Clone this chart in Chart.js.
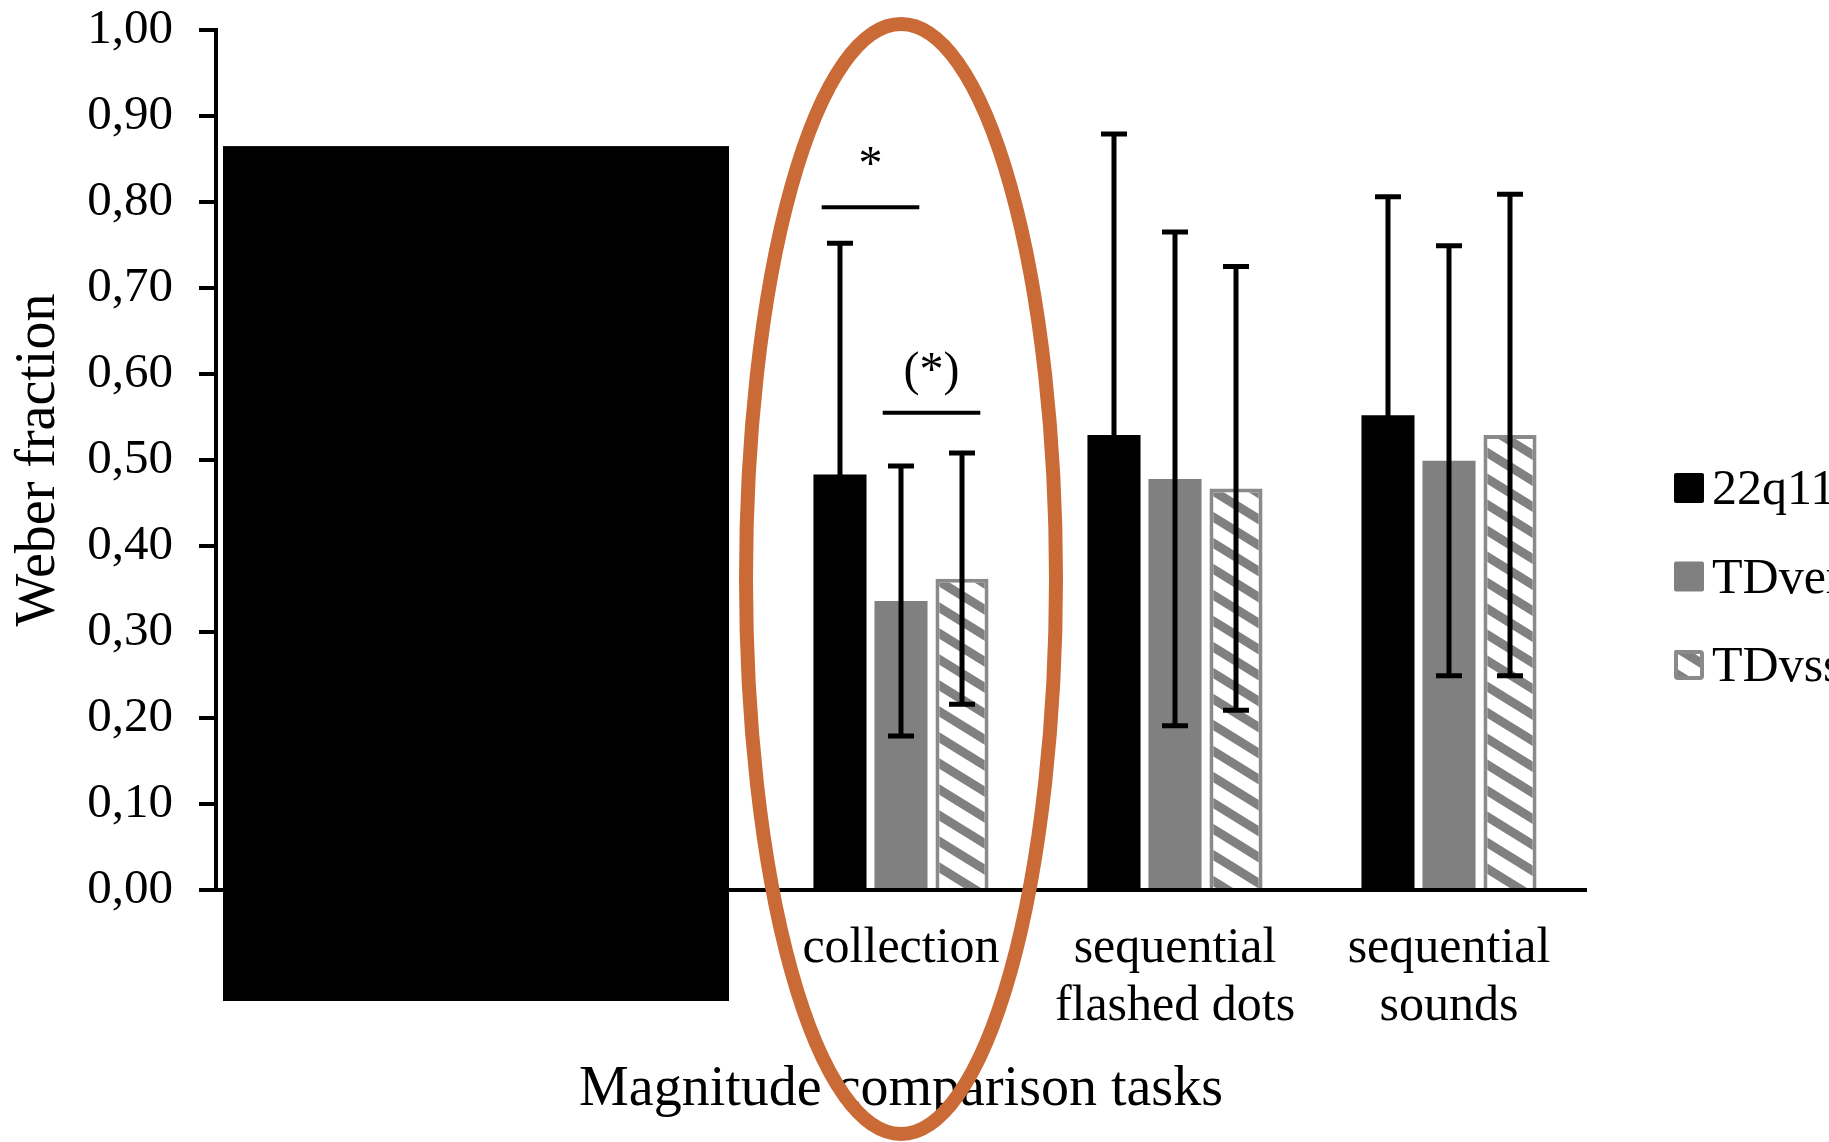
<!DOCTYPE html>
<html>
<head>
<meta charset="utf-8">
<script src="https://cdn.jsdelivr.net/npm/chart.js@4.4.1/dist/chart.umd.min.js"></script>
<style>
  html, body { margin: 0; padding: 0; background: #fff; overflow: hidden; }
</style>
</head>
<body>
<canvas id="chart" width="1829" height="1142"></canvas>
<script>
// categories (first two are covered by the black box in the original)
const categories = ['', '', 'collection', ['sequential', 'flashed dots'], ['sequential', 'sounds']];
const groupNames = ['22q11DS', 'TDverbal', 'TDvss'];

// mean Weber fractions
const means22q  = [null, null, 0.483, 0.529, 0.552];
const meansTDve = [null, null, 0.336, 0.478, 0.499];
const meansTDvs = [null, null, 0.362, 0.467, 0.529];

// error bar half-lengths
const err22q  = [null, null, 0.269, 0.350, 0.254];
const errTDve = [null, null, 0.157, 0.287, 0.250];
const errTDvs = [null, null, 0.146, 0.258, 0.280];

// significance marks (collection task)
const sigText   = ['*', '(*)'];
const sigLevel  = [0.794, 0.555];
const sigFromDs = [0, 1];
const sigCat    = 2;

const FONT = "'Liberation Serif', 'Times New Roman', serif";
const GREY = '#808080';

function makeHatch() {
    const w = 42, h = 26;
    const c = document.createElement('canvas');
    c.width = w; c.height = h;
    const g = c.getContext('2d');
    g.fillStyle = '#fff';
    g.fillRect(0, 0, w, h);
    g.strokeStyle = GREY;
    g.lineWidth = 9;
    for (const k of [-1, 0, 1]) {
        g.beginPath();
        g.moveTo(-w, k * h - h);
        g.lineTo(2 * w, k * h + 2 * h);
        g.stroke();
    }
    return g.createPattern(c, 'repeat');
}
const hatch = makeHatch();
const allErrors = [err22q, errTDve, errTDvs];

// error bars drawn from the data through the y scale
const errorBars = {
    id: 'errorBars',
    afterDatasetsDraw(chart) {
        const ctx = chart.ctx, y = chart.scales.y;
        ctx.save();
        ctx.strokeStyle = '#000';
        ctx.lineWidth = 5;
        chart.data.datasets.forEach((ds, i) => {
            const meta = chart.getDatasetMeta(i);
            ds.data.forEach((v, j) => {
                const e = allErrors[i][j];
                if (v == null || e == null) return;
                const x = meta.data[j].x;
                const top = y.getPixelForValue(v + e), bot = y.getPixelForValue(v - e);
                ctx.beginPath();
                ctx.moveTo(x, top); ctx.lineTo(x, bot);
                ctx.moveTo(x - 13, top); ctx.lineTo(x + 13, top);
                ctx.moveTo(x - 13, bot); ctx.lineTo(x + 13, bot);
                ctx.stroke();
            });
        });
        ctx.restore();
    }
};

// significance lines, redaction box, highlight ellipse, legend
const extras = {
    id: 'extras',
    afterDraw(chart) {
        const ctx = chart.ctx, xs = chart.scales.x, ys = chart.scales.y, area = chart.chartArea;
        const catW = xs.getPixelForValue(1) - xs.getPixelForValue(0);
        ctx.save();

        // significance bars
        sigText.forEach((t, k) => {
            const a = chart.getDatasetMeta(sigFromDs[k]).data[sigCat].x;
            const b = chart.getDatasetMeta(sigFromDs[k] + 1).data[sigCat].x;
            const mid = (a + b) / 2, half = (b - a) * 0.8;
            const yy = ys.getPixelForValue(sigLevel[k]);
            ctx.strokeStyle = '#000';
            ctx.lineWidth = 4;
            ctx.beginPath();
            ctx.moveTo(mid - half, yy); ctx.lineTo(mid + half, yy);
            ctx.stroke();
            ctx.fillStyle = '#000';
            ctx.font = '48px ' + FONT;
            ctx.textAlign = 'center';
            ctx.textBaseline = 'alphabetic';
            ctx.fillText(t, mid, yy - 28);
        });

        // black box
        const bx0 = xs.getPixelForValue(0) - catW / 2 + 7;
        const bx1 = xs.getPixelForValue(1) + catW / 2 - 35;
        const by0 = ys.getPixelForValue(0.865);
        const by1 = area.bottom + 111;
        ctx.fillStyle = '#000';
        ctx.fillRect(bx0, by0, bx1 - bx0, by1 - by0);

        // orange ellipse around collection
        ctx.strokeStyle = '#C96A37';
        ctx.lineWidth = 14;
        ctx.beginPath();
        ctx.ellipse(xs.getPixelForValue(2), area.top + 549, 155, 555, 0, 0, Math.PI * 2);
        ctx.stroke();

        // legend
        const lx = area.right + 88;
        ctx.font = '50px ' + FONT;
        ctx.textAlign = 'left';
        ctx.textBaseline = 'alphabetic';
        groupNames.forEach((name, i) => {
            const cy = area.top + 458 + i * 88.5;
            const ds = chart.data.datasets[i];
            ctx.beginPath();
            ctx.roundRect(lx, cy - 15, 30, 30, 2);
            ctx.fillStyle = ds.backgroundColor;
            ctx.fill();
            if (ds.borderWidth) {
                ctx.strokeStyle = ds.borderColor;
                ctx.lineWidth = 4;
                ctx.beginPath();
                ctx.roundRect(lx + 2, cy - 13, 26, 26, 2);
                ctx.stroke();
            }
            ctx.fillStyle = '#000';
            ctx.fillText(name, lx + 38, cy + 16);
        });
        ctx.restore();
    }
};

new Chart(document.getElementById('chart'), {
    type: 'bar',
    data: {
        labels: categories,
        datasets: [
            { label: groupNames[0], data: means22q, backgroundColor: '#000', borderWidth: 0 },
            { label: groupNames[1], data: meansTDve, backgroundColor: GREY, borderWidth: 0 },
            { label: groupNames[2], data: meansTDvs, backgroundColor: hatch, borderColor: '#8a8a8a', borderWidth: 4 }
        ]
    },
    options: {
        responsive: false,
        animation: false,
        layout: { padding: { top: 30, right: 243, bottom: 0, left: 0 } },
        datasets: { bar: { categoryPercentage: 0.668, barPercentage: 0.87, borderSkipped: 'bottom' } },
        plugins: { legend: { display: false }, tooltip: { enabled: false } },
        scales: {
            x: {
                grid: { display: false },
                border: { display: true, color: '#000', width: 4 },
                ticks: {
                    color: '#000', padding: 22, maxRotation: 0, autoSkip: false,
                    font: { family: FONT, size: 50, lineHeight: 1.16 }
                },
                title: {
                    display: true, text: 'Magnitude comparison tasks', color: '#000',
                    font: { family: FONT, size: 56, lineHeight: 1.2 }, padding: { top: 0, bottom: 18 }
                },
                afterFit: s => { s.height = 252; s.paddingLeft = 0; s.paddingRight = 0; }
            },
            y: {
                min: 0, max: 1,
                grid: { drawOnChartArea: false, color: '#000', lineWidth: 4, tickLength: 17 },
                border: { display: true, color: '#000', width: 4 },
                ticks: {
                    stepSize: 0.1, color: '#000', padding: 26,
                    font: { family: FONT, size: 49 },
                    callback: v => v.toFixed(2).replace('.', ',')
                },
                title: {
                    display: true, text: 'Weber fraction', color: '#000',
                    font: { family: FONT, size: 56, lineHeight: 1.2 }, padding: { top: 6, bottom: 0 }
                },
                afterFit: s => { s.width = 216; s.paddingTop = 0; s.paddingBottom = 0; }
            }
        }
    },
    plugins: [errorBars, extras]
});
</script>
</body>
</html>
